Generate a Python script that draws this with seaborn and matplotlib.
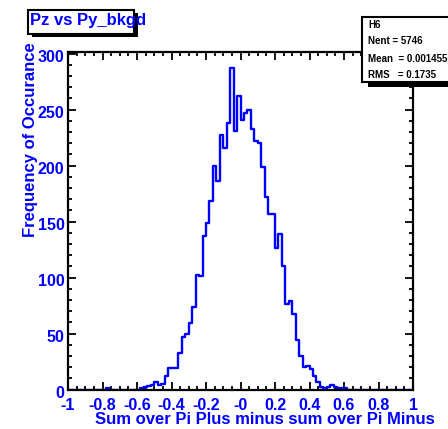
import numpy as np
import pandas as pd
import matplotlib
matplotlib.use("Agg")
import matplotlib.pyplot as plt
import matplotlib.transforms as mtransforms
from matplotlib.patches import Rectangle
from matplotlib.ticker import MultipleLocator
import seaborn as sns

# ---------------- data ----------------
title = "Pz vs Py_bkgd"
x_title = "Sum over Pi Plus minus sum over Pi Minus"
y_title = "Frequency of Occurance"
hist_name = "H6"
stat_lines = ["Nent = 5746", "Mean  = 0.001455", "RMS   = 0.1735"]

x_low, x_high, n_bins = -1.0, 1.0, 100
counts = [
    0, 0, 0, 0, 0, 0, 0, 0, 0, 0,          # 0-9
    0, 1, 0, 0, 0, 0, 0, 0, 0, 0,          # 10-19
    0, 1, 2, 3, 4, 7, 4, 5, 12, 19,        # 20-29
    19, 19, 33, 47, 50, 59, 74, 102, 101, 137,   # 30-39
    149, 168, 200, 186, 227, 216, 238, 287, 231, 262,  # 40-49
    241, 247, 250, 233, 222, 220, 199, 172, 157, 157,  # 50-59
    126, 139, 110, 76, 79, 67, 44, 30, 20, 21,   # 60-69
    18, 12, 7, 2, 1, 2, 4, 2, 1, 1,        # 70-79
    1, 0, 0, 0, 0, 0, 0, 0, 0, 0,          # 80-89
    0, 0, 0, 0, 0, 0, 0, 0, 0, 0,          # 90-99
]
x_tick_values = [-1, -0.8, -0.6, -0.4, -0.2, 0, 0.2, 0.4, 0.6, 0.8, 1]
x_tick_labels = ["-1", "-0.8", "-0.6", "-0.4", "-0.2", "-0", "0.2", "0.4", "0.6", "0.8", "1"]
y_tick_values = [0, 50, 100, 150, 200, 250, 300]
y_tick_labels = ["0", "50", "100", "150", "200", "250", "300"]

edges = np.linspace(x_low, x_high, n_bins + 1)
centers = 0.5 * (edges[:-1] + edges[1:])
df = pd.DataFrame({"x": centers, "w": counts})

# ---------------- style ----------------
sns.set_style("ticks")
plt.rcParams['font.family'] = ['Liberation Sans', 'DejaVu Sans']
plt.rcParams['font.weight'] = 'bold'

BLUE = "#0000ff"
W, H = 448, 429
fig = plt.figure(figsize=(W / 100, H / 100), dpi=100)
fig.patch.set_facecolor("white")

ax_l, ax_r, ax_t, ax_b = 68, 413, 52, 389.5
ax = fig.add_axes([ax_l / W, 1 - ax_b / H, (ax_r - ax_l) / W, (ax_b - ax_t) / H])
ax.set_facecolor("white")

sns.histplot(data=df, x="x", weights="w", bins=n_bins, binrange=(x_low, x_high),
             element="step", fill=False, color=BLUE, linewidth=1.7, ax=ax)

ax.set_xlim(x_low, x_high)
ax.set_ylim(0, 1.05 * max(counts))
ax.set_xlabel("")
ax.set_ylabel("")

ax.set_xticks(x_tick_values)
ax.set_xticklabels(x_tick_labels)
ax.set_yticks(y_tick_values)
ax.set_yticklabels(y_tick_labels)
ax.xaxis.set_minor_locator(MultipleLocator(0.05))
ax.yaxis.set_minor_locator(MultipleLocator(10))

ax.tick_params(which="both", direction="in", top=True, right=True,
               color="black", width=1.3)
ax.tick_params(which="major", length=5.5)
ax.tick_params(which="minor", length=3)
ax.tick_params(axis="x", which="major", pad=6, labelsize=11.5, labelcolor=BLUE)
ax.tick_params(axis="y", which="major", pad=2.5, labelsize=11.5, labelcolor=BLUE)
for lab in ax.get_xticklabels() + ax.get_yticklabels():
    lab.set_fontweight("bold")
# ROOT places y labels slightly below the tick
ydown = mtransforms.ScaledTranslation(0, -2.5 / 100, fig.dpi_scale_trans)
for lab in ax.get_yticklabels():
    lab.set_transform(lab.get_transform() + ydown)

for sp in ax.spines.values():
    sp.set_visible(True)
    sp.set_linewidth(1.6)
    sp.set_color("black")

# axis titles (ROOT style: aligned at axis end)
fig.text(435 / W, 1 - 420 / H, x_title, color=BLUE, fontsize=12,
         fontweight="bold", ha="right", va="center")
fig.text(31 / W, 1 - 42 / H, y_title, color=BLUE, fontsize=12,
         fontweight="bold", rotation=90, ha="center", va="top")

# title box with shadow
def px_rect(x0, y0, x1, y1, **kw):
    return Rectangle((x0 / W, 1 - y1 / H), (x1 - x0) / W, (y1 - y0) / H,
                     transform=fig.transFigure, **kw)

fig.patches.append(px_rect(32, 13, 137.5, 37, facecolor="black", edgecolor="none", zorder=5))
fig.patches.append(px_rect(28, 9.5, 134, 33.5, facecolor="white", edgecolor="black",
                           linewidth=1.5, zorder=6))
fig.text(29.5 / W, 1 - 21 / H, title, color=BLUE, fontsize=12, fontweight="bold",
         ha="left", va="center", zorder=7)

# stats box with shadow
fig.patches.append(px_rect(368, 20, 470, 86.5, facecolor="black", edgecolor="none", zorder=5))
fig.patches.append(px_rect(361.5, 16.5, 470, 81.5, facecolor="white", edgecolor="black",
                           linewidth=1.5, zorder=6))
fig.text(368 / W, 1 - 24.5 / H, hist_name, color="black", fontsize=7,
         fontweight="bold", ha="left", va="center", zorder=7)
for i, s in enumerate(stat_lines):
    fig.text(368 / W, 1 - (41.5 + 17 * i) / H, s, color="black", fontsize=7,
             fontweight="bold", ha="left", va="center", zorder=7)

fig.savefig("out.png", dpi=100, facecolor="white")
